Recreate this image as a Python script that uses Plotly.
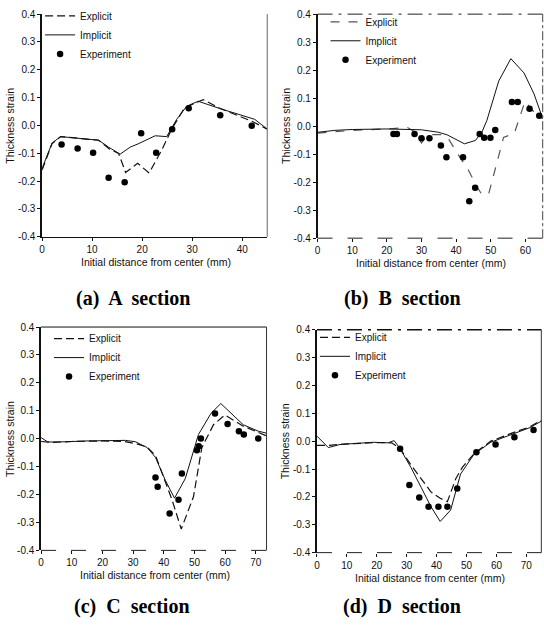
import plotly.graph_objects as go

# ---------------- data ----------------
# (a) A section
a_exp_x = [3.9, 7.1, 10.2, 13.3, 16.5, 19.8, 22.8, 26.0, 29.3, 35.6, 41.9]
a_exp_y = [-0.068, -0.083, -0.098, -0.188, -0.204, -0.028, -0.098, -0.014, 0.062, 0.037, -0.001]
a_imp_x = [0, 2.0, 3.7, 11.3, 13.3, 15.6, 17.6, 19.2, 22.6, 24.9, 26.9, 28.9, 31.2, 35.5, 42.5, 45]
a_imp_y = [-0.154, -0.063, -0.040, -0.053, -0.078, -0.103, -0.078, -0.066, -0.037, -0.040, 0.022, 0.069, 0.087, 0.061, 0.022, -0.013]
a_expl_x = [0, 2.0, 3.7, 11.3, 13.5, 15.3, 16.7, 19.1, 21.4, 23.9, 25.9, 28.5, 32.2, 35.5, 41.8, 45]
a_expl_y = [-0.16, -0.065, -0.040, -0.053, -0.085, -0.101, -0.169, -0.136, -0.171, -0.089, -0.013, 0.064, 0.093, 0.062, 0.016, -0.013]

# (b) B section
b_exp_x = [21.9, 22.9, 28.0, 30.0, 32.3, 35.6, 37.2, 42.0, 43.8, 45.5, 46.8, 48.1, 49.9, 51.3, 56.1, 57.8, 61.2, 64.0]
b_exp_y = [-0.028, -0.028, -0.028, -0.043, -0.043, -0.069, -0.111, -0.111, -0.268, -0.220, -0.028, -0.041, -0.041, -0.014, 0.086, 0.086, 0.062, 0.037]
b_imp_x = [0, 5, 10, 20, 30, 35, 37.4, 42.4, 45.6, 47.5, 48.9, 52.3, 55.8, 59.6, 62.5, 65]
b_imp_y = [-0.022, -0.015, -0.012, -0.010, -0.013, -0.022, -0.031, -0.063, -0.051, -0.020, 0.021, 0.161, 0.241, 0.190, 0.115, 0.027]
b_expl_x = [0, 5, 10, 20, 26, 28, 30, 31.5, 33, 36, 37.9, 40.3, 43.4, 46.1, 47.5, 49.4, 51.3, 53.7, 56.8, 59.9, 62.9, 65]
b_expl_y = [-0.025, -0.020, -0.015, -0.010, -0.005, -0.020, -0.060, -0.035, -0.030, -0.030, -0.047, -0.096, -0.154, -0.218, -0.245, -0.242, -0.154, -0.040, -0.026, 0.089, 0.044, 0.027]

# (c) C section
c_exp_x = [37.3, 38.0, 41.9, 44.8, 45.9, 50.8, 51.4, 52.1, 56.7, 60.8, 64.5, 66.1, 70.8]
c_exp_y = [-0.139, -0.172, -0.268, -0.219, -0.125, -0.041, -0.027, 0.001, 0.090, 0.053, 0.027, 0.015, 0.001]
c_imp_x = [0, 2.2, 8, 15, 27.5, 30.8, 34.6, 37.3, 40.5, 43.5, 47.0, 51.3, 55.4, 58.6, 65.9, 70.8, 73.5]
c_imp_y = [0.004, -0.012, -0.011, -0.008, -0.006, -0.011, -0.032, -0.067, -0.149, -0.213, -0.143, 0.015, 0.091, 0.126, 0.050, 0.027, 0.020]
c_expl_x = [0, 4, 10, 20, 27, 31, 34.6, 37.3, 42.7, 45.7, 49.7, 52.4, 56.2, 59.9, 65.9, 73.5]
c_expl_y = [-0.010, -0.013, -0.010, -0.008, -0.010, -0.018, -0.030, -0.060, -0.219, -0.324, -0.207, -0.032, 0.050, 0.085, 0.045, 0.010]

# (d) D section
d_exp_x = [27.8, 30.9, 34.2, 37.3, 40.6, 43.6, 46.9, 53.3, 59.7, 66.0, 72.4]
d_exp_y = [-0.027, -0.157, -0.202, -0.235, -0.235, -0.235, -0.170, -0.040, -0.012, 0.014, 0.040]
d_imp_x = [0, 3.8, 7.7, 18.8, 23.8, 25.8, 27.8, 31.4, 34.8, 38.1, 41.2, 44.7, 48.0, 52.5, 58.1, 64.7, 71.3, 75]
d_imp_y = [0.018, -0.023, -0.012, -0.004, -0.006, 0.002, -0.027, -0.094, -0.165, -0.235, -0.288, -0.247, -0.118, -0.047, -0.004, 0.023, 0.049, 0.072]
d_expl_x = [0, 4, 10, 20, 25, 27.8, 31.4, 34.8, 38.1, 41.2, 43.6, 46.4, 48.6, 52.5, 58.1, 64.7, 71.3, 75]
d_expl_y = [-0.015, -0.015, -0.010, -0.005, -0.006, -0.027, -0.085, -0.135, -0.182, -0.205, -0.217, -0.135, -0.094, -0.045, 0.000, 0.027, 0.052, 0.075]

y_tickvals = [0.4, 0.3, 0.2, 0.1, 0.0, -0.1, -0.2, -0.3, -0.4]
y_ticktext = ["0.4", "0.3", "0.2", "0.1", "0.0", "-0.1", "-0.2", "-0.3", "-0.4"]
x_ticks_a = [0, 10, 20, 30, 40]
x_ticks_b = [0, 10, 20, 30, 40, 50, 60]
x_ticks_cd = [0, 10, 20, 30, 40, 50, 60, 70]
x_ranges = [[0, 45], [0, 65], [0, 73.5], [0, 75]]
captions = ["(a)  A  section", "(b)  B  section", "(c)  C  section", "(d)  D  section"]
y_title = "Thickness strain"
x_title = "Initial distance from center (mm)"
names = ["Explicit", "Implicit", "Experiment"]

W, H = 544, 627
# panel rectangles in pixels: left, right, top, bottom
panels = [
    (39.3, 265.7, 8.3, 235.3),
    (316.3, 542.7, 8.3, 236.7),
    (38.3, 265.0, 327.3, 555.0),
    (315.7, 541.3, 330.0, 557.3),
]
legend_dx = [-2, 8, 8, -2]
legend_dy = [-13, -7, -3, -7]
caption_pos = [(131, 298), (402, 298), (130, 612), (401, 612)]

fig = go.Figure()

sets = [
    (a_expl_x, a_expl_y, a_imp_x, a_imp_y, a_exp_x, a_exp_y),
    (b_expl_x, b_expl_y, b_imp_x, b_imp_y, b_exp_x, b_exp_y),
    (c_expl_x, c_expl_y, c_imp_x, c_imp_y, c_exp_x, c_exp_y),
    (d_expl_x, d_expl_y, d_imp_x, d_imp_y, d_exp_x, d_exp_y),
]

tick_font = dict(family="Liberation Sans, Arial", size=10, color="#111")
for i, (ex, ey, ix, iy, px, py) in enumerate(sets):
    n = i + 1
    xa = "x" if n == 1 else f"x{n}"
    ya = "y" if n == 1 else f"y{n}"
    lg = "legend" if n == 1 else f"legend{n}"
    dash_col = "#555" if n == 2 else "#111"
    dash_style = "dash" if n == 2 else "8px,4px"
    fig.add_trace(go.Scatter(x=ex, y=ey, mode="lines", name=names[0], xaxis=xa, yaxis=ya,
                             legend=lg, line=dict(color=dash_col, width=1.2, dash=dash_style)))
    fig.add_trace(go.Scatter(x=ix, y=iy, mode="lines", name=names[1], xaxis=xa, yaxis=ya,
                             legend=lg, line=dict(color="#111", width=1.0)))
    fig.add_trace(go.Scatter(x=px, y=py, mode="markers", name=names[2], xaxis=xa, yaxis=ya,
                             legend=lg, marker=dict(color="#000", size=6.5, symbol="circle")))

layout = dict(width=W, height=H, margin=dict(l=0, r=0, t=0, b=0),
              paper_bgcolor="white", plot_bgcolor="white", showlegend=True)

xtick_sets = [x_ticks_a, x_ticks_b, x_ticks_cd, x_ticks_cd]
annotations = []
shapes = []
label_font = dict(family="Liberation Sans, Arial", size=10.5, color="#111")
for i, (l, r, t, b) in enumerate(panels):
    n = i + 1
    xk = "xaxis" if n == 1 else f"xaxis{n}"
    yk = "yaxis" if n == 1 else f"yaxis{n}"
    xa = "x" if n == 1 else f"x{n}"
    ya = "y" if n == 1 else f"y{n}"
    layout[xk] = dict(domain=[l / W, r / W], anchor=ya, range=x_ranges[i],
                      tickvals=xtick_sets[i], ticks="outside", ticklen=3, tickcolor="#111",
                      showline=(n == 1), linecolor="#111", linewidth=1.2, showgrid=False,
                      zeroline=False, tickfont=tick_font)
    layout[yk] = dict(domain=[1 - b / H, 1 - t / H], anchor=xa, range=[-0.4, 0.4],
                      tickvals=y_tickvals, ticktext=y_ticktext, ticks="outside", ticklen=3,
                      tickcolor="#111", showline=True, linecolor="#111", linewidth=1.5,
                      showgrid=False, zeroline=False, tickfont=tick_font)
    # axis titles
    annotations.append(dict(text=y_title, x=(l - 32) / W, y=1 - ((t + b) / 2) / H,
                            xref="paper", yref="paper", xanchor="center", yanchor="middle",
                            textangle=-90, showarrow=False, font=label_font))
    annotations.append(dict(text=x_title, x=((l + r) / 2 + 1) / W, y=1 - (b + 25.5) / H,
                            xref="paper", yref="paper", xanchor="center", yanchor="middle",
                            showarrow=False, font=label_font))
    # captions
    cx, cy = caption_pos[i]
    annotations.append(dict(text="<b>" + captions[i] + "</b>", x=cx / W, y=1 - cy / H,
                            xref="paper", yref="paper", xanchor="center", yanchor="middle",
                            showarrow=False,
                            font=dict(family="Liberation Serif, Times New Roman", size=20, color="#000")))
    # frame lines (scanned look)
    xd, yd = f"{xa} domain", f"{ya} domain"
    if n == 1:
        shapes.append(dict(type="line", xref=xd, yref=yd, x0=1, x1=1, y0=0, y1=1,
                           line=dict(color="#666", width=1)))
    if n == 2:
        shapes.append(dict(type="line", xref=xd, yref=yd, x0=0, x1=1, y0=1, y1=1,
                           line=dict(color="#222", width=1, dash="longdashdot")))
        shapes.append(dict(type="line", xref=xd, yref=yd, x0=0, x1=1, y0=0, y1=0,
                           line=dict(color="#222", width=1, dash="longdash")))
        shapes.append(dict(type="line", xref=xd, yref=yd, x0=1, x1=1, y0=0, y1=1,
                           line=dict(color="#444", width=1, dash="dashdot")))
    if n == 3:
        shapes.append(dict(type="line", xref=xd, yref=yd, x0=0, x1=1, y0=1, y1=1,
                           line=dict(color="#111", width=1)))
        shapes.append(dict(type="line", xref=xd, yref=yd, x0=0, x1=1, y0=0, y1=0,
                           line=dict(color="#222", width=1, dash="longdash")))
        shapes.append(dict(type="line", xref=xd, yref=yd, x0=1, x1=1, y0=0, y1=1,
                           line=dict(color="#333", width=1)))
    if n == 4:
        shapes.append(dict(type="line", xref=xd, yref=yd, x0=0, x1=1, y0=1, y1=1,
                           line=dict(color="#111", width=1.5, dash="longdashdot")))
        shapes.append(dict(type="line", xref=xd, yref=yd, x0=0, x1=1, y0=0, y1=0,
                           line=dict(color="#222", width=1, dash="longdash")))
        shapes.append(dict(type="line", xref=xd, yref=yd, x0=1, x1=1, y0=0, y1=1,
                           line=dict(color="#333", width=1)))
    # legend
    lk = "legend" if n == 1 else f"legend{n}"
    layout[lk] = dict(x=(l + legend_dx[i]) / W, y=1 - (t + legend_dy[i]) / H,
                      xanchor="left", yanchor="top",
                      bgcolor="rgba(0,0,0,0)", borderwidth=0, tracegroupgap=0,
                      itemwidth=30,
                      font=dict(family="Liberation Sans, Arial", size=10, color="#111"))

layout["annotations"] = annotations
layout["shapes"] = shapes
fig.update_layout(**layout)
fig.write_html("out.html")
